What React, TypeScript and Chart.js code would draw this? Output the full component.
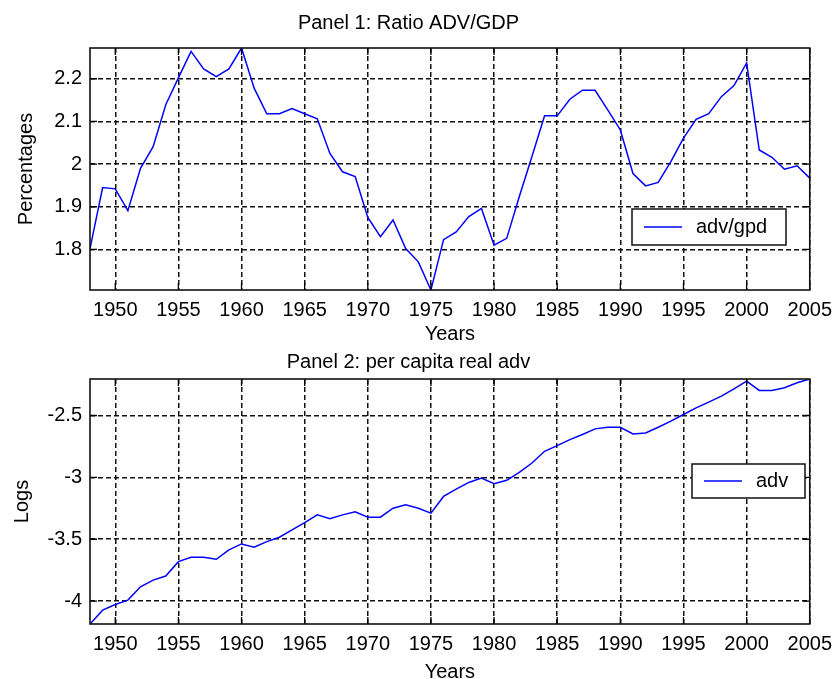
import React, { useEffect, useRef } from "react";
import { Chart, registerables } from "chart.js";
Chart.register(...registerables);

const YEARS = [
  1948, 1949, 1950, 1951, 1952, 1953, 1954, 1955, 1956, 1957,
  1958, 1959, 1960, 1961, 1962, 1963, 1964, 1965, 1966, 1967,
  1968, 1969, 1970, 1971, 1972, 1973, 1974, 1975, 1976, 1977,
  1978, 1979, 1980, 1981, 1982, 1983, 1984, 1985, 1986, 1987,
  1988, 1989, 1990, 1991, 1992, 1993, 1994, 1995, 1996, 1997,
  1998, 1999, 2000, 2001, 2002, 2003, 2004, 2005,
];

const ADV_GDP = [
  1.802, 1.945, 1.942, 1.891, 1.990, 2.041, 2.139, 2.202, 2.264, 2.223,
  2.205, 2.223, 2.272, 2.178, 2.118, 2.118, 2.130, 2.118, 2.106, 2.025,
  1.982, 1.971, 1.875, 1.830, 1.869, 1.802, 1.771, 1.705, 1.823, 1.841,
  1.877, 1.896, 1.810, 1.826, 1.924, 2.018, 2.113, 2.113, 2.152, 2.173,
  2.173, 2.127, 2.080, 1.978, 1.949, 1.957, 2.006, 2.061, 2.105, 2.118,
  2.158, 2.184, 2.237, 2.033, 2.016, 1.988, 1.996, 1.967,
];

const LOG_ADV = [
  -4.185, -4.073, -4.027, -3.992, -3.884, -3.830, -3.797, -3.681, -3.646, -3.646,
  -3.662, -3.586, -3.538, -3.565, -3.519, -3.484, -3.424, -3.365, -3.303, -3.335,
  -3.303, -3.278, -3.322, -3.322, -3.249, -3.222, -3.249, -3.289, -3.154, -3.095,
  -3.041, -3.005, -3.051, -3.024, -2.959, -2.884, -2.789, -2.743, -2.695, -2.654,
  -2.608, -2.595, -2.595, -2.649, -2.641, -2.595, -2.546, -2.492, -2.438, -2.392,
  -2.343, -2.284, -2.222, -2.297, -2.297, -2.276, -2.235, -2.205,
];

const X_TICKS = [1950, 1955, 1960, 1965, 1970, 1975, 1980, 1985, 1990, 1995, 2000, 2005];
const Y1_TICKS = [1.8, 1.9, 2, 2.1, 2.2];
const Y2_TICKS = [-4, -3.5, -3, -2.5];

const FONT = "'Liberation Sans', Arial, sans-serif";
const BLUE = "rgb(0,0,255)";

const framePlugin = {
  id: "frame",
  afterDatasetsDraw(chart: any, _args: any, opts: any) {
    const { ctx, chartArea } = chart;
    const { left, top, right, bottom } = chartArea;
    const xs = chart.scales.x;
    const ys = chart.scales.y;
    const tl = 7;
    ctx.save();
    ctx.strokeStyle = "#000";
    ctx.lineWidth = 1.3;
    ctx.setLineDash([]);
    ctx.beginPath();
    xs.ticks.forEach((t: any) => {
      const px = xs.getPixelForValue(t.value);
      ctx.moveTo(px, bottom);
      ctx.lineTo(px, bottom - tl);
      ctx.moveTo(px, top);
      ctx.lineTo(px, top + tl);
    });
    ys.ticks.forEach((t: any) => {
      const py = ys.getPixelForValue(t.value);
      ctx.moveTo(left, py);
      ctx.lineTo(left + tl, py);
      ctx.moveTo(right, py);
      ctx.lineTo(right - tl, py);
    });
    ctx.stroke();
    ctx.strokeStyle = "#111";
    ctx.lineWidth = 1.6;
    ctx.strokeRect(left, top, right - left, bottom - top);

    const lg = opts.legend;
    if (lg) {
      const bx = Math.round(right - lg.right - lg.width);
      const by = Math.round(top + lg.top);
      ctx.fillStyle = "#fff";
      ctx.fillRect(bx, by, lg.width, lg.height);
      ctx.strokeStyle = "#111";
      ctx.lineWidth = 1.5;
      ctx.strokeRect(bx, by, lg.width, lg.height);
      const cy = by + lg.height / 2;
      ctx.strokeStyle = BLUE;
      ctx.lineWidth = 1.5;
      ctx.beginPath();
      ctx.moveTo(bx + 12, cy);
      ctx.lineTo(bx + 50, cy);
      ctx.stroke();
      ctx.fillStyle = "#000";
      ctx.font = `20px ${FONT}`;
      ctx.textBaseline = "middle";
      ctx.textAlign = "left";
      ctx.fillText(chart.data.datasets[0].label, bx + 64, cy);
    }
    ctx.restore();
  },
};

interface PanelProps {
  title: string;
  yTitle: string;
  label: string;
  values: number[];
  yTicks: number[];
  titlePad: { top: number; bottom: number };
  yTitlePad: number;
  xAxisHeight: number;
  legend: { right: number; top: number; width: number; height: number };
  width: number;
  height: number;
}

function Panel(p: PanelProps) {
  const ref = useRef<HTMLCanvasElement | null>(null);
  useEffect(() => {
    if (!ref.current) return;
    const font = { family: FONT, size: 20, weight: "normal" as const, lineHeight: 1.2 };
    const gridOpts = { color: "#111", lineWidth: 1.5, drawTicks: false };
    const chart = new Chart(ref.current, {
      type: "line",
      data: {
        datasets: [
          {
            label: p.label,
            data: YEARS.map((y, i) => ({ x: y, y: p.values[i] })),
            borderColor: BLUE,
            borderWidth: 1.5,
            pointRadius: 0,
            tension: 0,
            fill: false,
          },
        ],
      },
      options: {
        responsive: false,
        animation: false,
        devicePixelRatio: 1,
        layout: { padding: { left: 0, right: 23, top: 0, bottom: 0 } },
        plugins: {
          legend: { display: false },
          tooltip: { enabled: false },
          title: {
            display: true,
            text: p.title,
            color: "#000",
            font,
            padding: p.titlePad,
          },
          frame: { legend: p.legend },
        } as any,
        scales: {
          x: {
            type: "linear",
            min: YEARS[0],
            max: YEARS[YEARS.length - 1],
            afterBuildTicks: (s: any) => {
              s.ticks = X_TICKS.map((v) => ({ value: v }));
            },
            afterFit: (s: any) => {
              s.height = p.xAxisHeight;
            },
            ticks: {
              color: "#000",
              font,
              padding: 8,
              maxRotation: 0,
              autoSkip: false,
              callback: (v: any) => String(v),
            },
            grid: gridOpts,
            border: { display: false, dash: [5, 3] },
            title: { display: true, text: "Years", color: "#000", font, padding: { top: 0, bottom: 0 } },
          },
          y: {
            type: "linear",
            min: Math.min(...p.values),
            max: Math.max(...p.values),
            afterBuildTicks: (s: any) => {
              s.ticks = p.yTicks.map((v) => ({ value: v }));
            },
            afterFit: (s: any) => {
              s.width = 90;
            },
            ticks: {
              color: "#000",
              font,
              padding: 8,
              callback: (v: any) => String(v),
            },
            grid: gridOpts,
            border: { display: false, dash: [5, 3] },
            title: { display: true, text: p.yTitle, color: "#000", font, padding: { top: p.yTitlePad, bottom: 0 } },
          },
        },
      },
      plugins: [framePlugin],
    });
    return () => chart.destroy();
  }, []);
  return <canvas ref={ref} width={p.width} height={p.height} style={{ display: "block" }} />;
}

export default function App() {
  return (
    <div
      style={{
        position: "absolute",
        left: 0,
        top: 0,
        width: 840,
        height: 679,
        overflow: "hidden",
        background: "#fff",
      }}
    >
      <div style={{ position: "absolute", left: 0, top: 0 }}>
        <Panel
          title="Panel 1: Ratio ADV/GDP"
          yTitle="Percentages"
          label="adv/gpd"
          values={ADV_GDP}
          yTicks={Y1_TICKS}
          titlePad={{ top: 11, bottom: 13 }}
          yTitlePad={14}
          xAxisHeight={56}
          legend={{ right: 24, top: 161, width: 154, height: 36 }}
          width={840}
          height={346}
        />
      </div>
      <div style={{ position: "absolute", left: 0, top: 346 }}>
        <Panel
          title="Panel 2: per capita real adv"
          yTitle="Logs"
          label="adv"
          values={LOG_ADV}
          yTicks={Y2_TICKS}
          titlePad={{ top: 4, bottom: 5 }}
          yTitlePad={10}
          xAxisHeight={60}
          legend={{ right: 5, top: 85, width: 113, height: 34 }}
          width={840}
          height={338}
        />
      </div>
    </div>
  );
}
